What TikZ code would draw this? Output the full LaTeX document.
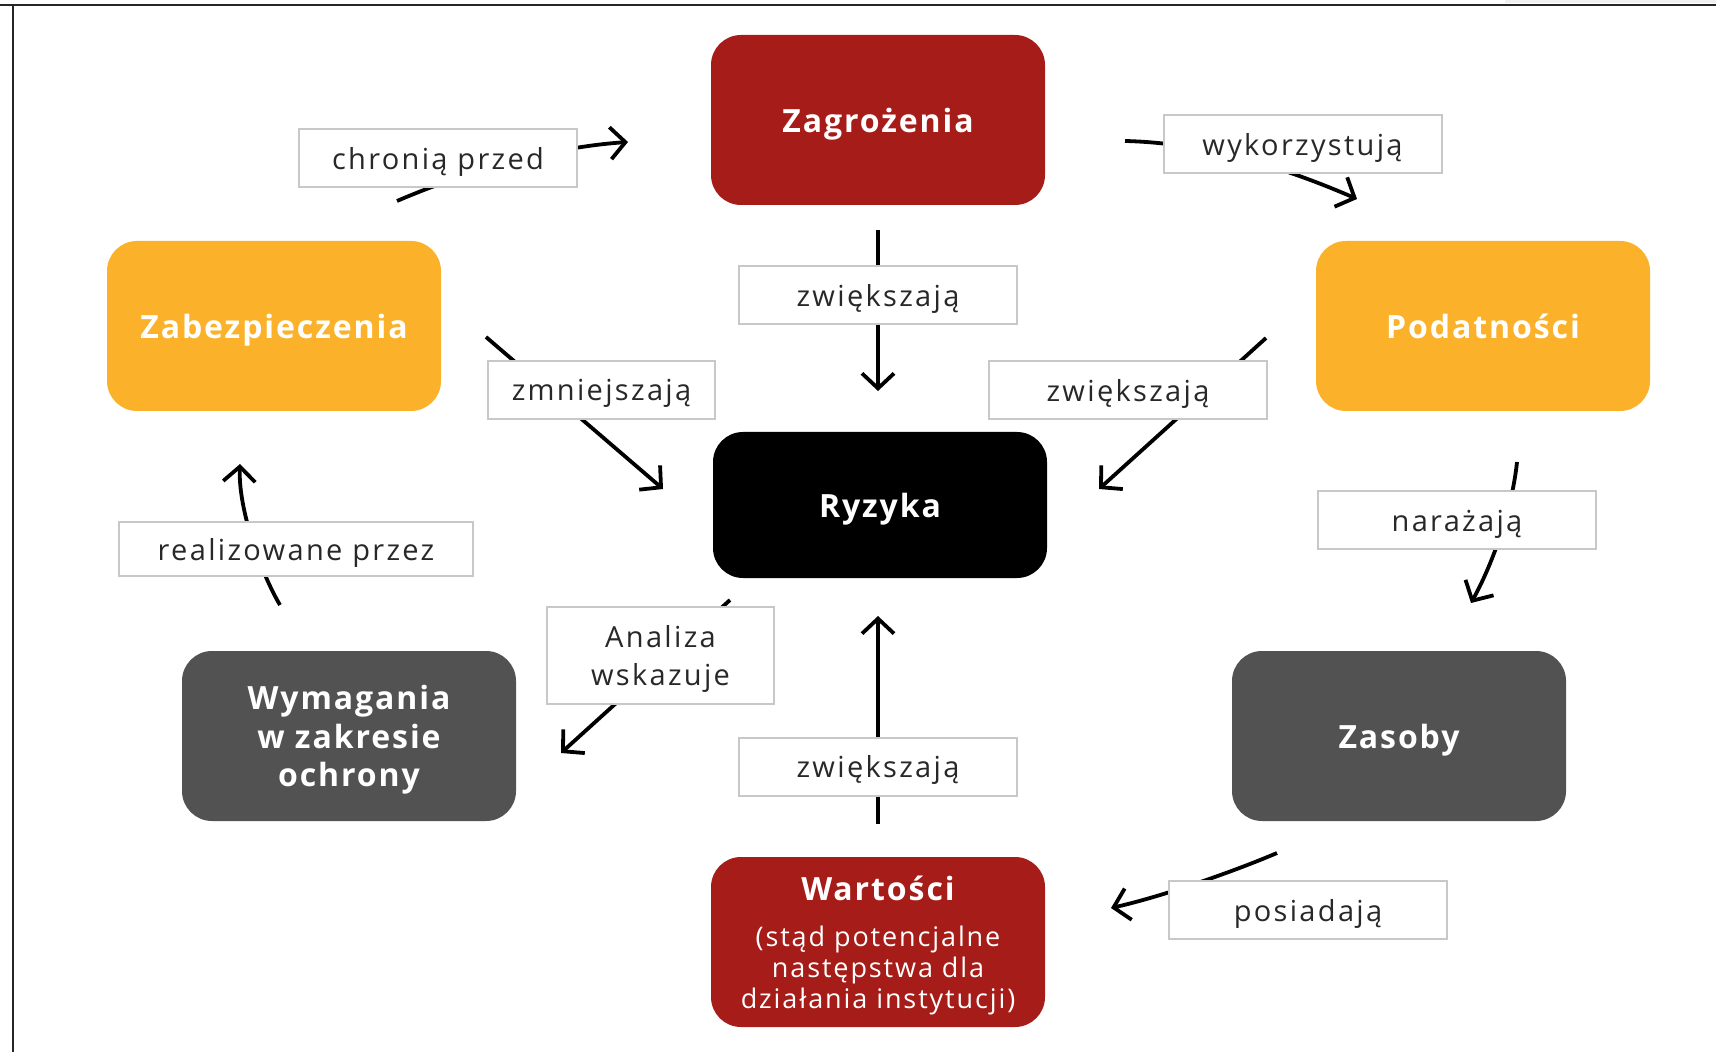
\documentclass[tikz,border=0pt]{standalone}
\usepackage{fontspec}
\setmainfont{Open Sans}
\usetikzlibrary{arrows.meta}
\definecolor{dred}{RGB}{165,28,24}
\definecolor{amber}{RGB}{251,178,42}
\definecolor{dgray}{RGB}{82,82,82}
\definecolor{lbl}{RGB}{40,40,40}
\definecolor{lborder}{RGB}{200,200,200}
\newcommand{\titlefont}{\bfseries\fontsize{16}{19.2}\selectfont\addfontfeatures{LetterSpace=6}}
\newcommand{\warfont}{\bfseries\fontsize{16}{15.3}\selectfont\addfontfeatures{LetterSpace=6}}
\newcommand{\labfont}{\fontsize{14.5}{19}\selectfont\addfontfeatures{LetterSpace=8}}
\newcommand{\subfont}{\mdseries\fontsize{13.5}{15.3}\selectfont\addfontfeatures{LetterSpace=7}}
\begin{document}
\begin{tikzpicture}[x=0.5pt,y=-0.5pt,
 box/.style={rounded corners=15pt, minimum width=167pt, minimum height=85pt, text=white,
   font=\titlefont, align=center, inner sep=0pt, text depth=0pt},
 lab/.style={draw=lborder, line width=1pt, fill=white, minimum width=139pt, minimum height=29pt,
   text=lbl, font=\labfont, align=center, inner sep=0pt, text depth=0pt},
 conn/.style={line width=1.9pt, -{Straight Barb[length=7.5pt,width=16pt]}},
 frameline/.style={line width=1.2pt, black!85}
]
\useasboundingbox (0,0) rectangle (1716,1052);
\fill[gray!12] (1505,0) rectangle (1716,3.5);
\draw[frameline] (0,5) -- (1716,5);
\draw[frameline] (13,5) -- (13,1052);

% main boxes
\node[box, fill=dred] (zag) at (878,120) {Zagrożenia};
\node[box, fill=amber] (zab) at (274,326) {Zabezpieczenia};
\node[box, fill=amber] (pod) at (1483,326) {Podatności};
\node[box, fill=black, minimum height=73pt] (ryz) at (880,505) {Ryzyka};
\node[box, fill=dgray] (wym) at (349,736) {Wymagania\\w zakresie\\ochrony};
\node[box, fill=dgray] (zas) at (1399,736) {Zasoby};
\node[box, fill=dred, font=\warfont] (war) at (878,942) {Wartości\\[8pt]{\subfont (stąd potencjalne}\\{\subfont następstwa dla}\\{\subfont działania instytucji)}};

% connector end points
\coordinate (c1s) at (397,201);  \coordinate (c1e) at (628,142);
\coordinate (c2s) at (1125,141); \coordinate (c2e) at (1357,199);
\coordinate (c3s) at (878,230);  \coordinate (c3e) at (878,391);
\coordinate (c4s) at (486,337);  \coordinate (c4e) at (663,489);
\coordinate (c5s) at (1266,338); \coordinate (c5e) at (1099,489);
\coordinate (c6s) at (1517,462); \coordinate (c6e) at (1471,603);
\coordinate (c7s) at (280,605);  \coordinate (c7e) at (240,464);
\coordinate (c8s) at (730,600);  \coordinate (c8e) at (561,753);
\coordinate (c9s) at (878,824);  \coordinate (c9e) at (878,616);
\coordinate (c10s) at (1277,853); \coordinate (c10e) at (1111,908);

\draw[conn] (c1s) .. controls (450,178) and (540,148) .. (c1e);
\draw[conn] (c2s) .. controls (1210,143) and (1290,170) .. (c2e);
\draw[conn] (c3s) -- (c3e);
\draw[conn] (c4s) -- (c4e);
\draw[conn] (c5s) -- (c5e);
\draw[conn] (c6s) .. controls (1512,510) and (1492,565) .. (c6e);
\draw[conn] (c7s) .. controls (262,575) and (238,510) .. (c7e);
\draw[conn] (c8s) -- (c8e);
\draw[conn] (c9s) -- (c9e);
\draw[conn] (c10s) .. controls (1230,873) and (1160,897) .. (c10e);

% labels
\node[lab] (l1) at (438,158) {chronią przed};
\node[lab] (l2) at (1302.5,144.5) {wykorzystują};
\node[lab] (l3) at (878,295) {zwiększają};
\node[lab, minimum width=113.5pt] (l4) at (601.5,390) {zmniejszają};
\node[lab] (l5) at (1128,390) {zwiększają};
\node[lab] (l6) at (1457,520.5) {narażają};
\node[lab, minimum width=177pt, minimum height=27pt] (l7) at (296,549) {realizowane przez};
\node[lab, minimum width=113.5pt, minimum height=48.5pt] (l8) at (660.5,655.5) {Analiza\\wskazuje};
\node[lab] (l9) at (878,766.5) {zwiększają};
\node[lab] (l10) at (1308,910) {posiadają};
\end{tikzpicture}
\end{document}
